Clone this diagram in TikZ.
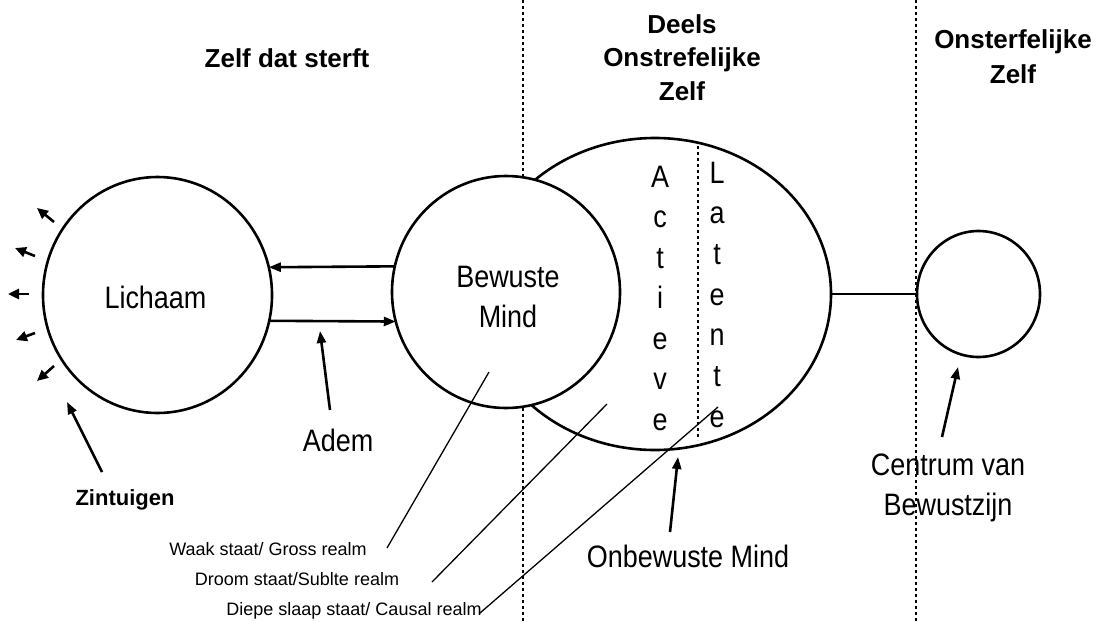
\documentclass[tikz,border=0pt]{standalone}
\usepackage{graphicx}
\usepackage{fontspec}
\setmainfont{Liberation Sans}
\usetikzlibrary{arrows.meta,shapes.geometric}
\newcommand{\lt}[1]{\scalebox{0.87}[1]{#1}}
\begin{document}
\begin{tikzpicture}[x=1pt,y=-1pt,
  outline/.style={draw,line width=2.6pt,inner sep=0pt,outer sep=0pt,ellipse,fill=white},
  arr/.style={line width=2.6pt,-{Triangle[length=12pt,width=9pt]}},
  tinyarr/.style={line width=2.6pt,-{Triangle[length=11pt,width=10pt]}},
  pointer/.style={line width=1.3pt},
  sep/.style={line width=2.6pt,dash pattern=on 2.6pt off 3.4pt},
  big/.style={font=\fontsize{31}{40}\selectfont,inner sep=0pt,anchor=base,align=center},
  head/.style={font=\fontsize{26}{34}\selectfont\bfseries,inner sep=0pt,anchor=base,align=center},
  small/.style={font=\fontsize{18}{20}\selectfont,inner sep=0pt,anchor=base},
]
\useasboundingbox (0,0) rectangle (1102,621);

% separators
\coordinate (s1t) at (523,0); \coordinate (s1b) at (523,621);
\coordinate (s2t) at (916,0); \coordinate (s2b) at (916,621);
\draw[sep] (s1t) -- (s1b);
\draw[sep] (s2t) -- (s2b);

% unconscious mind ellipse
\node[outline,minimum width=352pt,minimum height=312pt] (onb) at (655,294) {};
\coordinate (latT) at (698,146); \coordinate (latB) at (698,440);
\draw[sep] (latT) -- (latB);

% circles
\node[outline,minimum width=229pt,minimum height=236pt] (lich) at (157.5,295) {};
\node[outline,minimum width=228pt,minimum height=232pt] (bew) at (506,292) {};
\node[outline,minimum width=123pt,minimum height=126pt] (cen) at (978.5,294) {};

\draw[line width=2.6pt] (onb.east) -- (cen.west);

% breath arrows
\draw[arr] (bew.167.3) -- (lich.14.1);
\draw[arr] (lich.-13.6) -- (bew.195.2);

% sense arrows
\coordinate (z1a) at (54,222); \coordinate (z1b) at (37,208);
\coordinate (z2a) at (35,256); \coordinate (z2b) at (15,248);
\coordinate (z3a) at (29,294); \coordinate (z3b) at (8,294);
\coordinate (z4a) at (35,333); \coordinate (z4b) at (16,340);
\coordinate (z5a) at (54,366); \coordinate (z5b) at (37,381);
\draw[tinyarr] (z1a) -- (z1b);
\draw[tinyarr] (z2a) -- (z2b);
\draw[tinyarr] (z3a) -- (z3b);
\draw[tinyarr] (z4a) -- (z4b);
\draw[tinyarr] (z5a) -- (z5b);

% labels in circles
\node[big] (tlich) at (155.5,308) {\lt{Lichaam}};
\node[big] (tbew) at (508,327) {\lt{Bewuste}\\\lt{Mind}};
\foreach \c [count=\i from 0] in {A,c,t,i,e,v,e}
  \node[big] (act\i) at (660,{187+40.5*\i}) {\lt{\c}};
\foreach \c [count=\i from 0] in {L,a,t,e,n,t,e}
  \node[big] (lat\i) at (717,{183+40.7*\i}) {\lt{\c}};

% headings
\node[head] (h1) at (287,67) {Zelf dat sterft};
\node[head,font=\fontsize{26}{33.5}\selectfont\bfseries] (h2) at (682,100) {Deels\\Onstrefelijke\\Zelf};
\node[head,font=\fontsize{26}{35}\selectfont\bfseries] (h3) at (1013,83) {Onsterfelijke\\Zelf};

% outer labels
\node[head,font=\fontsize{22}{24}\selectfont\bfseries] (tzin) at (125,505) {Zintuigen};
\node[big] (tadem) at (338,451) {\lt{Adem}};
\node[big] (tcen) at (948,515) {\lt{Centrum van}\\\lt{Bewustzijn}};
\node[big] (tonb) at (688,567) {\lt{Onbewuste Mind}};

\node[small] (waak) at (268,555) {Waak staat/ Gross realm};
\node[small] (droom) at (297,585) {Droom staat/Sublte realm};
\node[small] (diep) at (354,615) {Diepe slaap staat/ Causal realm};

% label arrows
\coordinate (zinA) at (102,472); \coordinate (zinB) at (67,402);
\coordinate (ademA) at (330,410); \coordinate (ademB) at (320,331);
\coordinate (onbA) at (670,532); \coordinate (onbB) at (678,457);
\coordinate (cenA) at (942,437); \coordinate (cenB) at (958,367);
\draw[arr] (zinA) -- (zinB);
\draw[arr] (ademA) -- (ademB);
\draw[arr] (onbA) -- (onbB);
\draw[arr] (cenA) -- (cenB);

% pointer lines
\coordinate (p1a) at (489,372); \coordinate (p1b) at (387,548);
\coordinate (p2a) at (607,404); \coordinate (p2b) at (432,582);
\coordinate (p3a) at (718,407); \coordinate (p3b) at (480,613);
\draw[pointer] (p1a) -- (p1b);
\draw[pointer] (p2a) -- (p2b);
\draw[pointer] (p3a) -- (p3b);
\end{tikzpicture}
\end{document}
